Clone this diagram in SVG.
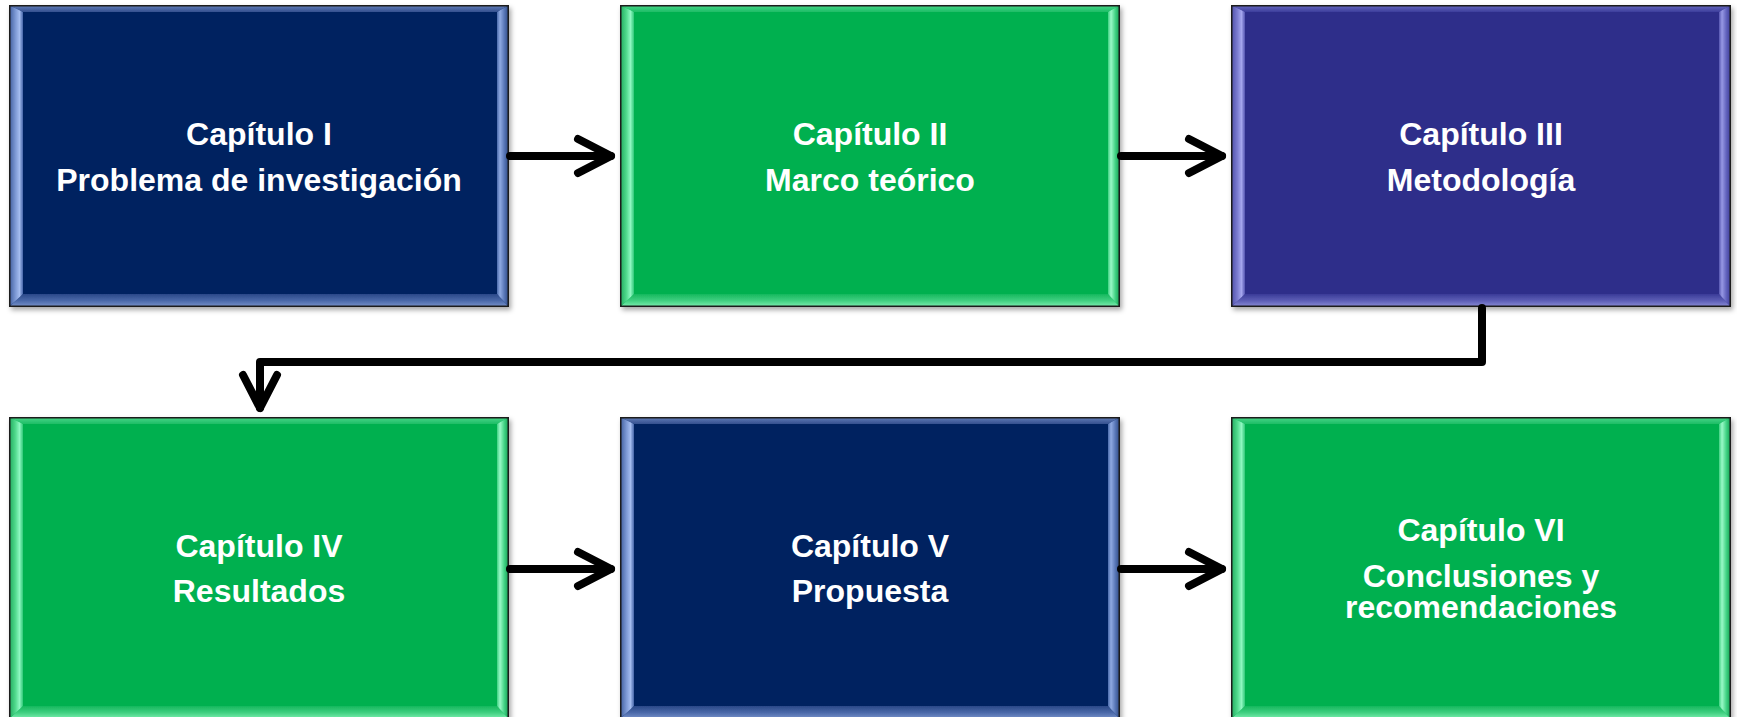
<svg xmlns="http://www.w3.org/2000/svg" xmlns:xlink="http://www.w3.org/1999/xlink" width="1737" height="717" viewBox="0 0 1737 717">
  <style>
    .lbl { font-family: "Liberation Sans", Arial, sans-serif; font-weight: bold; font-size: 32px; fill: #ffffff; text-anchor: middle; }
    .conn { fill: none; stroke: #000000; stroke-width: 8; stroke-linecap: round; stroke-linejoin: round; }
    .edge { fill: none; stroke: #1a1a1a; stroke-width: 1.5; }
  </style>
  <defs>
    <filter id="shadow" x="-5%" y="-5%" width="112%" height="115%">
      <feDropShadow dx="2" dy="3" stdDeviation="2.5" flood-color="#000" flood-opacity="0.35"/>
    </filter>
    <marker id="arrow" markerUnits="userSpaceOnUse" viewBox="-44 -24 54 48" markerWidth="54" markerHeight="48" refX="0" refY="0" orient="auto">
      <path d="M -33 -17 L 0 0 L -33 17" fill="none" stroke="#000" stroke-width="8" stroke-linecap="round" stroke-linejoin="round"/>
    </marker>
    <!-- navy gradients -->
    <linearGradient id="nL" x1="0" y1="0" x2="1" y2="0"><stop offset="0" stop-color="#3b5a9a"/><stop offset="0.45" stop-color="#7b97d3"/><stop offset="0.75" stop-color="#a4bcef"/><stop offset="1" stop-color="#4565a8"/></linearGradient>
    <linearGradient id="nR" x1="1" y1="0" x2="0" y2="0"><stop offset="0" stop-color="#2a4580"/><stop offset="0.4" stop-color="#5a78b8"/><stop offset="0.75" stop-color="#8faae2"/><stop offset="1" stop-color="#4a6aab"/></linearGradient>
    <linearGradient id="nT" x1="0" y1="0" x2="0" y2="1"><stop offset="0" stop-color="#6580bb"/><stop offset="1" stop-color="#34508f"/></linearGradient>
    <linearGradient id="nB" x1="0" y1="1" x2="0" y2="0"><stop offset="0" stop-color="#7a94cc"/><stop offset="0.5" stop-color="#4a68a8"/><stop offset="1" stop-color="#2a4888"/></linearGradient>
    <!-- green gradients -->
    <linearGradient id="gL" x1="0" y1="0" x2="1" y2="0"><stop offset="0" stop-color="#1fa85c"/><stop offset="0.45" stop-color="#4fd98c"/><stop offset="0.75" stop-color="#8ef7c1"/><stop offset="1" stop-color="#30c878"/></linearGradient>
    <linearGradient id="gR" x1="1" y1="0" x2="0" y2="0"><stop offset="0" stop-color="#0f9a4e"/><stop offset="0.4" stop-color="#44d486"/><stop offset="0.75" stop-color="#9af9c8"/><stop offset="1" stop-color="#3fd081"/></linearGradient>
    <linearGradient id="gT" x1="0" y1="0" x2="0" y2="1"><stop offset="0" stop-color="#49d88b"/><stop offset="1" stop-color="#1fbd66"/></linearGradient>
    <linearGradient id="gB" x1="0" y1="1" x2="0" y2="0"><stop offset="0" stop-color="#7ff0b2"/><stop offset="0.5" stop-color="#3fcf80"/><stop offset="1" stop-color="#16b85e"/></linearGradient>
    <!-- purple gradients -->
    <linearGradient id="pL" x1="0" y1="0" x2="1" y2="0"><stop offset="0" stop-color="#4b4ca6"/><stop offset="0.45" stop-color="#7a7bcf"/><stop offset="0.75" stop-color="#a5a6ee"/><stop offset="1" stop-color="#5354b0"/></linearGradient>
    <linearGradient id="pR" x1="1" y1="0" x2="0" y2="0"><stop offset="0" stop-color="#3a3b94"/><stop offset="0.4" stop-color="#6364be"/><stop offset="0.75" stop-color="#9798e4"/><stop offset="1" stop-color="#5556b0"/></linearGradient>
    <linearGradient id="pT" x1="0" y1="0" x2="0" y2="1"><stop offset="0" stop-color="#6a6bc2"/><stop offset="1" stop-color="#3d3e9c"/></linearGradient>
    <linearGradient id="pB" x1="0" y1="1" x2="0" y2="0"><stop offset="0" stop-color="#8c8dd8"/><stop offset="0.5" stop-color="#5c5db5"/><stop offset="1" stop-color="#3a3b98"/></linearGradient>

    <g id="boxNavy">
      <rect x="0" y="0" width="500" height="302" fill="#002060"/>
      <polygon points="0,0 500,0 488,7 14,7" fill="url(#nT)"/>
      <polygon points="0,302 500,302 488,289 14,289" fill="url(#nB)"/>
      <polygon points="0,0 14,7 14,289 0,302" fill="url(#nL)"/>
      <polygon points="500,0 488,7 488,289 500,302" fill="url(#nR)"/>
      <rect class="edge" x="0.75" y="0.75" width="498.5" height="300.5"/>
    </g>
    <g id="boxGreen">
      <rect x="0" y="0" width="500" height="302" fill="#00b050"/>
      <polygon points="0,0 500,0 488,7 14,7" fill="url(#gT)"/>
      <polygon points="0,302 500,302 488,289 14,289" fill="url(#gB)"/>
      <polygon points="0,0 14,7 14,289 0,302" fill="url(#gL)"/>
      <polygon points="500,0 488,7 488,289 500,302" fill="url(#gR)"/>
      <rect class="edge" x="0.75" y="0.75" width="498.5" height="300.5"/>
    </g>
    <g id="boxPurple">
      <rect x="0" y="0" width="500" height="302" fill="#2e2f8a"/>
      <polygon points="0,0 500,0 488,7 14,7" fill="url(#pT)"/>
      <polygon points="0,302 500,302 488,289 14,289" fill="url(#pB)"/>
      <polygon points="0,0 14,7 14,289 0,302" fill="url(#pL)"/>
      <polygon points="500,0 488,7 488,289 500,302" fill="url(#pR)"/>
      <rect class="edge" x="0.75" y="0.75" width="498.5" height="300.5"/>
    </g>
  </defs>

  <rect x="0" y="0" width="1737" height="717" fill="#ffffff"/>

  <g id="node1">
    <use xlink:href="#boxNavy" href="#boxNavy" x="9" y="5" filter="url(#shadow)"/>
    <text class="lbl" x="259" y="145">Capítulo I</text>
    <text class="lbl" x="259" y="191">Problema de investigación</text>
  </g>
  <g id="node2">
    <use xlink:href="#boxGreen" href="#boxGreen" x="620" y="5" filter="url(#shadow)"/>
    <text class="lbl" x="870" y="145">Capítulo II</text>
    <text class="lbl" x="870" y="191">Marco teórico</text>
  </g>
  <g id="node3">
    <use xlink:href="#boxPurple" href="#boxPurple" x="1231" y="5" filter="url(#shadow)"/>
    <text class="lbl" x="1481" y="145">Capítulo III</text>
    <text class="lbl" x="1481" y="191">Metodología</text>
  </g>
  <g id="node4">
    <use xlink:href="#boxGreen" href="#boxGreen" x="9" y="417" filter="url(#shadow)"/>
    <text class="lbl" x="259" y="557">Capítulo IV</text>
    <text class="lbl" x="259" y="602">Resultados</text>
  </g>
  <g id="node5">
    <use xlink:href="#boxNavy" href="#boxNavy" x="620" y="417" filter="url(#shadow)"/>
    <text class="lbl" x="870" y="557">Capítulo V</text>
    <text class="lbl" x="870" y="602">Propuesta</text>
  </g>
  <g id="node6">
    <use xlink:href="#boxGreen" href="#boxGreen" x="1231" y="417" filter="url(#shadow)"/>
    <text class="lbl" x="1481" y="541">Capítulo VI</text>
    <text class="lbl" x="1481" y="587">Conclusiones y</text>
    <text class="lbl" x="1481" y="618">recomendaciones</text>
  </g>

  <g id="connectors">
    <path class="conn" d="M 510 156 H 611" marker-end="url(#arrow)"/>
    <path class="conn" d="M 1121 156 H 1222" marker-end="url(#arrow)"/>
    <path class="conn" d="M 1482 308 V 362 H 260 V 408" marker-end="url(#arrow)"/>
    <path class="conn" d="M 510 569 H 611" marker-end="url(#arrow)"/>
    <path class="conn" d="M 1121 569 H 1222" marker-end="url(#arrow)"/>
  </g>
</svg>
